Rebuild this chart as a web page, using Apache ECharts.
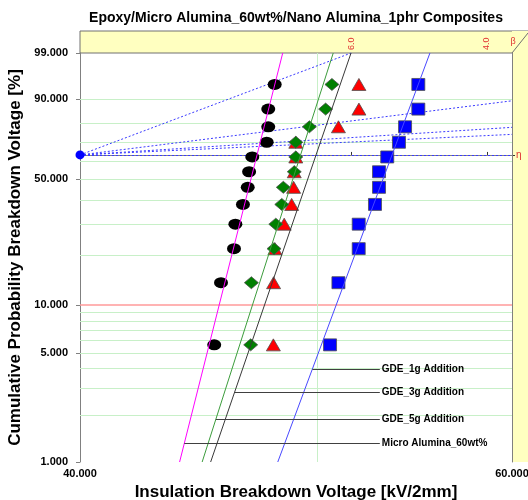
<!DOCTYPE html>
<html>
<head>
<meta charset="utf-8">
<script src="https://cdn.jsdelivr.net/npm/echarts@6/dist/echarts.min.js"></script>
<style>
  html, body { margin: 0; padding: 0; background: #fff; }
  #chart { width: 528px; height: 500px; }
</style>
</head>
<body>
<div id="chart"></div>
<script>
// breakdown voltages [kV/2mm], sorted ascending, 12 specimens per group
const seriesNames = ['Micro Alumina_60wt%', 'GDE_5g Addition', 'GDE_3g Addition', 'GDE_1g Addition'];
const microAlumina = [45.37, 45.66, 46.22, 46.28, 46.61, 46.82, 46.88, 47.02, 47.66, 47.73, 47.73, 48.02];
const gde5g = [46.95, 46.98, 47.99, 48.07, 48.34, 48.41, 48.91, 48.98, 48.98, 49.61, 50.37, 50.67];
const gde3g = [47.96, 47.97, 48.03, 48.45, 48.79, 48.88, 48.91, 48.98, 48.98, 50.98, 51.97, 51.97];
const gde1g = [50.58, 50.98, 51.96, 51.96, 52.76, 52.96, 52.96, 53.37, 53.96, 54.27, 54.95, 54.95];

// fitted weibull parameters
const fitBeta = [63.3, 49.8, 46.5, 42.9];
const fitEta = [47.23, 49.20, 49.92, 53.61];

// where the label leader lines meet each fit line [%]
const leaderF = [1.32, 1.89, 2.83, 3.97];
const leaderEnd = 53.0;

// axis stuff
const xTicks = [40, 60];
const yTicks = [1, 5, 10, 50, 90, 99];
const gridF = [2, 3, 4, 5, 6, 7, 8, 9, 20, 30, 40, 50, 60, 70, 80, 90];
const redF = [10];
const gridV = [50];
const betaTicks = [6.0, 4.0];
const betaLines = [6.0, 2.0, 1.02, 0.76, 0];

const groups = [microAlumina, gde5g, gde3g, gde1g];
const markerColors = ['#000000', '#008000', '#FF0000', '#0000FF'];
const lineColors = ['#FF00FF', '#3C9C3C', '#383838', '#4848FF'];
const symbols = [
  'path://M0,6A7,6 0 1,1 14,6A7,6 0 1,1 0,6Z',
  'diamond', 'triangle', 'rect'
];
const symbolSizes = [[14, 11], [14, 12], [14, 12], [13, 12]];
const font = 'Liberation Sans';

// weibull paper transforms
const wy = p => Math.log(-Math.log(1 - p / 100));
const unwy = y => (1 - Math.exp(-Math.exp(y))) * 100;
const X0 = Math.log(40), X1 = Math.log(60);
const Y0 = wy(1), Y1 = wy(99);
const rank = (i, n) => (i + 1 - 0.3) / (n + 0.4) * 100;

const chart = echarts.init(document.getElementById('chart'));

const series = [];

// grid lines
series.push({
  type: 'lines', coordinateSystem: 'cartesian2d', silent: true, z: 1,
  lineStyle: { opacity: 1 },
  data: [
    ...gridF.map(f => ({ coords: [[X0, wy(f)], [X1, wy(f)]], lineStyle: { color: '#C8F0C8', width: 1, opacity: 1 } })),
    ...redF.map(f => ({ coords: [[X0, wy(f)], [X1, wy(f)]], lineStyle: { color: '#FF9A9A', width: 1.5, opacity: 1 } })),
    ...gridV.map(v => ({ coords: [[Math.log(v), Y0], [Math.log(v), Y1]], lineStyle: { color: '#C8F0C8', width: 1, opacity: 1 } }))
  ]
});

// beta scale lines from the pole
series.push({
  type: 'lines', coordinateSystem: 'cartesian2d', silent: true, z: 2,
  lineStyle: { color: '#3A3AFF', width: 1, type: [2, 2], opacity: 1 },
  data: betaLines.map(b => {
    const d = b > 0 ? Math.min(Y1 / b, X1 - X0) : X1 - X0;
    return { coords: [[X0, 0], [X0 + d, b * d]] };
  })
});

// points
groups.forEach((vals, k) => {
  series.push({
    name: seriesNames[k], type: 'scatter', z: 3,
    symbol: symbols[k], symbolSize: symbolSizes[k],
    itemStyle: {
      color: markerColors[k], opacity: 1,
      borderColor: k === 0 ? '#000' : '#505050',
      borderWidth: k === 0 ? 0 : 0.8
    },
    data: vals.map((v, i) => [Math.log(v), wy(rank(i, vals.length))])
  });
});
// draw green over red like the original
const tmp = series[3]; series[3] = series[4]; series[4] = tmp;

// fit lines
groups.forEach((vals, k) => {
  const le = Math.log(fitEta[k]);
  series.push({
    type: 'line', z: 4, symbol: 'none', silent: true,
    lineStyle: { color: lineColors[k], width: 1 },
    data: [[le + Y0 / fitBeta[k], Y0], [le + Y1 / fitBeta[k], Y1]]
  });
});

// label leaders
series.push({
  type: 'lines', coordinateSystem: 'cartesian2d', silent: true, z: 5,
  lineStyle: { color: '#404040', width: 1, opacity: 1 },
  label: {
    show: true, position: 'end', distance: 2, opacity: 1,
    color: '#000', fontFamily: font, fontWeight: 'bold', fontSize: 10,
    formatter: p => p.name
  },
  data: groups.map((vals, k) => {
    const y = wy(leaderF[k]);
    return {
      name: seriesNames[k],
      coords: [[Math.log(fitEta[k]) + y / fitBeta[k], y], [Math.log(leaderEnd), y]]
    };
  })
});

// pole
series.push({
  type: 'scatter', z: 6, symbol: 'circle', symbolSize: 9,
  itemStyle: { color: '#0000FF', opacity: 1 },
  data: [[X0, 0]]
});

const option = {
  backgroundColor: '#fff',
  animation: false,
  grid: { left: 80, right: 16, top: 53, bottom: 38, containLabel: false, outerBoundsMode: 'none' },
  xAxis: [
    {
      type: 'value', position: 'bottom', min: X0, max: X1,
      name: 'Insulation Breakdown Voltage [kV/2mm]', nameLocation: 'middle', nameGap: 20,
      nameTextStyle: { fontFamily: font, fontWeight: 'bold', fontSize: 17, color: '#000' },
      axisLine: { show: true, lineStyle: { color: '#808080', width: 1 } },
      axisTick: { show: true, customValues: xTicks.map(Math.log), length: 4, lineStyle: { color: '#808080' } },
      axisLabel: {
        customValues: xTicks.map(Math.log), margin: 6,
        fontFamily: font, fontWeight: 'bold', fontSize: 11, color: '#000',
        formatter: v => Math.exp(v).toFixed(3)
      },
      splitLine: { show: false }
    },
    {
      type: 'value', position: 'top', min: X0, max: X1,
      axisLine: { show: true, lineStyle: { color: '#808080', width: 1 } },
      axisTick: { show: true, customValues: betaTicks.map(b => X0 + Y1 / b), length: 3, lineStyle: { color: '#333' } },
      axisLabel: {
        customValues: betaTicks.map(b => X0 + Y1 / b), margin: 3, rotate: 90,
        fontFamily: font, fontSize: 9, color: '#E03030',
        formatter: v => (Y1 / (v - X0)).toFixed(1)
      },
      splitLine: { show: false }
    }
  ],
  yAxis: [
    {
      type: 'value', position: 'left', min: Y0, max: Y1,
      name: 'Cumulative Probability Breakdown Voltage [%]', nameLocation: 'middle', nameGap: 44, nameRotate: 90,
      nameTextStyle: { fontFamily: font, fontWeight: 'bold', fontSize: 17, color: '#000' },
      axisLine: { show: true, lineStyle: { color: '#808080', width: 1 } },
      axisTick: { show: true, customValues: yTicks.map(wy), length: 4, lineStyle: { color: '#808080' } },
      axisLabel: {
        customValues: yTicks.map(wy), margin: 12,
        fontFamily: font, fontWeight: 'bold', fontSize: 11, color: '#000',
        formatter: v => unwy(v).toFixed(3)
      },
      splitLine: { show: false }
    },
    {
      type: 'value', position: 'right', min: Y0, max: Y1,
      axisLine: { show: true, lineStyle: { color: '#808080', width: 1 } },
      axisTick: { show: true, customValues: [0], length: 3, lineStyle: { color: '#333' } },
      axisLabel: {
        customValues: [0], margin: 4,
        fontFamily: font, fontSize: 10, color: '#E03030',
        formatter: () => 'η'
      },
      splitLine: { show: false }
    }
  ],
  graphic: [
    { type: 'rect', z: -10, shape: { x: 80, y: 31, width: 448, height: 22 }, style: { fill: '#FFFFC0', stroke: '#707070', lineWidth: 1 } },
    { type: 'rect', z: -10, shape: { x: 512, y: 31, width: 16, height: 431 }, style: { fill: '#FFFFC0' } },
    { type: 'line', z: 10, shape: { x1: 512, y1: 53, x2: 528, y2: 33 }, style: { stroke: '#707070', lineWidth: 1 } },
    { type: 'text', z: 10, x: 513, y: 42, style: { text: 'β', fill: '#E03030', font: '9px ' + font, textAlign: 'center', textVerticalAlign: 'middle' } },
    {
      type: 'text', z: 10, x: 296, y: 18,
      style: {
        text: 'Epoxy/Micro Alumina_60wt%/Nano Alumina_1phr Composites',
        fill: '#000', font: 'bold 14px ' + font, textAlign: 'center', textVerticalAlign: 'middle'
      }
    }
  ],
  series: series
};

chart.setOption(option);
</script>
</body>
</html>
